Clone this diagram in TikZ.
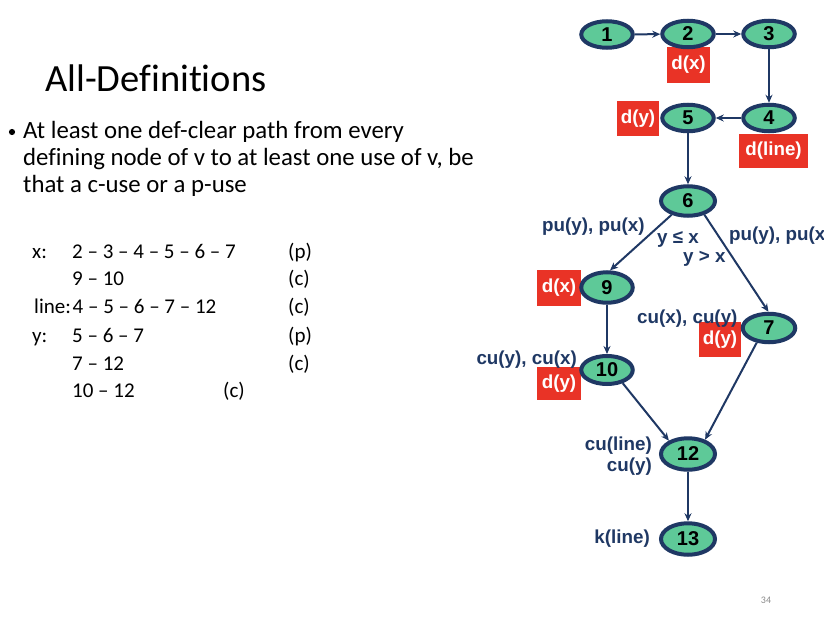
\documentclass[tikz,border=0pt]{standalone}
\usepackage{fontspec}
\setmainfont{Carlito}[Ligatures=NoCommon]
\newfontfamily\labelfont{Liberation Sans}
\usetikzlibrary{shapes.geometric,arrows.meta}

\definecolor{navy}{RGB}{31,56,100}
\definecolor{mint}{RGB}{94,201,152}
\definecolor{defred}{RGB}{233,51,38}
\definecolor{pagegray}{RGB}{140,140,140}

\tikzset{
  flownode/.style={ellipse, draw=navy, line width=4pt, fill=mint,
    minimum width=51.5pt, minimum height=26.5pt, inner sep=0pt,
    font=\labelfont\bfseries\fontsize{20}{20}\selectfont},
  defbox/.style={fill=defred, text=white, inner sep=0pt,
    font=\labelfont\bfseries\fontsize{18.8}{18.8}\selectfont},
  uselabel/.style={text=navy, inner sep=0pt,
    font=\labelfont\bfseries\fontsize{18.8}{18.8}\selectfont},
  flow/.style={draw=navy, line width=2pt, -{Stealth[length=8pt,width=7pt]}},
  titletext/.style={inner sep=0pt, anchor=base west, font=\fontsize{38.5}{40}\selectfont},
  bodytext/.style={inner sep=0pt, anchor=base west, font=\fontsize{24.8}{27}\selectfont},
  tabletext/.style={inner sep=0pt, anchor=base west, font=\fontsize{21}{24}\selectfont},
}

\begin{document}
\begin{tikzpicture}[x=1pt, y=-1pt]
  \useasboundingbox (0,0) rectangle (824,618);
  \clip (0,0) rectangle (824,618);
  \fill[white] (0,0) rectangle (824,618);

  % slide text
  \node[titletext] (title) at (45,92) {All-Definitions};
  \fill (12,132) circle (3.1);
  \node[bodytext] (b1) at (23,138) {At least one def-clear path from every};
  \node[bodytext] (b2) at (23,165) {defining node of v to at least one use of v, be};
  \node[bodytext] (b3) at (23,192) {that a c-use or a p-use};

  % def-clear paths per variable
  \node[tabletext] (vx) at (32,258) {x:};
  \node[tabletext] (px1) at (72,258) {2 – 3 – 4 – 5 – 6 – 7};
  \node[tabletext] (kx1) at (288,258) {(p)};
  \node[tabletext] (px2) at (72,285) {9 – 10};
  \node[tabletext] (kx2) at (288,285) {(c)};
  \node[tabletext] (vl) at (34,313) {line:};
  \node[tabletext] (pl1) at (72.5,313) {4 – 5 – 6 – 7 – 12};
  \node[tabletext] (kl1) at (288,313) {(c)};
  \node[tabletext] (vy) at (32,342) {y:};
  \node[tabletext] (py1) at (72,342) {5 – 6 – 7};
  \node[tabletext] (ky1) at (288,342) {(p)};
  \node[tabletext] (py2) at (72,370) {7 – 12};
  \node[tabletext] (ky2) at (288,370) {(c)};
  \node[tabletext] (py3) at (72,397) {10 – 12};
  \node[tabletext] (ky3) at (223,397) {(c)};

  % definition markers
  \node[defbox, minimum width=43pt, minimum height=36pt] (dx2) at (688.5,65) {d(x)};
  \node[defbox, minimum width=42pt, minimum height=35pt] (dy5) at (638,118.5) {d(y)};
  \node[defbox, minimum width=69pt, minimum height=34pt] (dl4) at (773.5,151) {d(line)};
  \node[defbox, minimum width=44pt, minimum height=36pt] (dx9) at (559,288) {d(x)};
  \node[defbox, minimum width=42pt, minimum height=35pt] (dy7) at (720,339.5) {d(y)};
  \node[defbox, minimum width=44pt, minimum height=33pt] (dy10) at (559,383.5) {d(y)};

  % control flow graph nodes
  \node[flownode] (n1) at (607,34.5) {1};
  \node[flownode] (n2) at (688,34) {2};
  \node[flownode] (n3) at (769,34) {3};
  \node[flownode] (n4) at (769,118) {4};
  \node[flownode] (n5) at (688,118) {5};
  \node[flownode, minimum width=54pt, minimum height=29.5pt] (n6) at (688,201) {6};
  \node[flownode, minimum height=30.5pt] (n9) at (607,287.5) {9};
  \node[flownode, minimum width=52.5pt, minimum height=28.5pt] (n7) at (769,328) {7};
  \node[flownode, minimum height=28pt] (n10) at (607,370) {10};
  \node[flownode, minimum width=54pt, minimum height=31.5pt] (n12) at (688,454) {12};
  \node[flownode, minimum width=54pt, minimum height=31.5pt] (n13) at (688,539) {13};

  % edges
  \draw[flow] (n1) -- (n2);
  \draw[flow] (n2) -- (n3);
  \draw[flow] (n3) -- (n4);
  \draw[flow] (n4) -- (n5);
  \draw[flow] (n5) -- (n6);
  \draw[flow] (n6.220) -- (n9.80);
  \draw[flow] (n6.320) -- (n7.92);
  \draw[flow] (n9) -- (n10);
  \draw[flow] (n10.320) -- (n12.145);
  \draw[flow] (n7.230) -- (n12.40);
  \draw[flow] (n12) -- (n13);

  % use labels
  \node[uselabel, anchor=base west] (pul) at (542,231) {pu(y), pu(x)};
  \node[uselabel, anchor=base west] (le) at (657,243) {y ≤ x};
  \node[uselabel, anchor=base west] (gt) at (683,262) {y > x};
  \node[uselabel, anchor=base west] (pur) at (729,240) {pu(y), pu(x)};
  \node[uselabel, anchor=base west] (cu7) at (637,323) {cu(x), cu(y)};
  \node[uselabel, anchor=base east] (cu10) at (577,364) {cu(y), cu(x)};
  \node[uselabel, anchor=base east] (cu12a) at (652,450) {cu(line)};
  \node[uselabel, anchor=base east] (cu12b) at (652,471) {cu(y)};
  \node[uselabel, anchor=base east] (k13) at (650,543) {k(line)};

  % page number
  \node[inner sep=0pt, text=pagegray, font=\fontsize{10}{12}\selectfont] (page) at (766,600) {34};
\end{tikzpicture}
\end{document}
